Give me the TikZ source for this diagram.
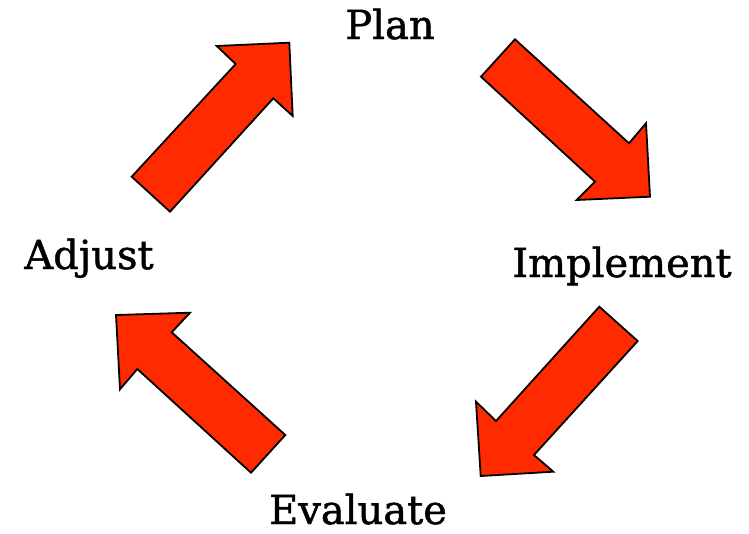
\documentclass[tikz,border=0pt]{standalone}
\usepackage{fontspec}
\setmainfont{DejaVu Serif}[FakeBold=1.2]
\definecolor{arrowred}{RGB}{255,42,0}
\begin{document}
\begin{tikzpicture}[x=1pt,y=-1pt,
  blockarrow/.style={fill=arrowred,draw=black,line width=1.8pt,line join=miter},
  stage/.style={anchor=base,inner sep=0pt,font=\fontsize{40}{46}\selectfont}]
\useasboundingbox (0,0) rectangle (749,533);
% stage labels
\node[stage] (plan) at (390,39) {Plan};
\node[stage] (implement) at (622,277) {Implement};
\node[stage] (evaluate) at (358,524) {Evaluate};
\node[stage] (adjust) at (89,269) {Adjust};
% Adjust -> Plan
\draw[blockarrow] (131.7,176.7) -- (235.7,64) -- (216.7,46) -- (289.3,42.7)
  -- (292.7,116) -- (273.3,98.3) -- (170,211.7) -- cycle;
% Plan -> Implement
\draw[blockarrow] (515,39.3) -- (629,143.3) -- (646,123.3) -- (650,196.7)
  -- (576.7,200) -- (595,181.7) -- (481,76.7) -- cycle;
% Implement -> Evaluate
\draw[blockarrow] (637.7,341) -- (534,455) -- (553.3,471.7) -- (480.7,476)
  -- (476,401.7) -- (496,421) -- (599.3,306.7) -- cycle;
% Evaluate -> Adjust
\draw[blockarrow] (251,472.7) -- (137.3,369) -- (120,389.3) -- (116,315)
  -- (190,312.7) -- (171.7,332.3) -- (285.3,435) -- cycle;
\end{tikzpicture}
\end{document}
